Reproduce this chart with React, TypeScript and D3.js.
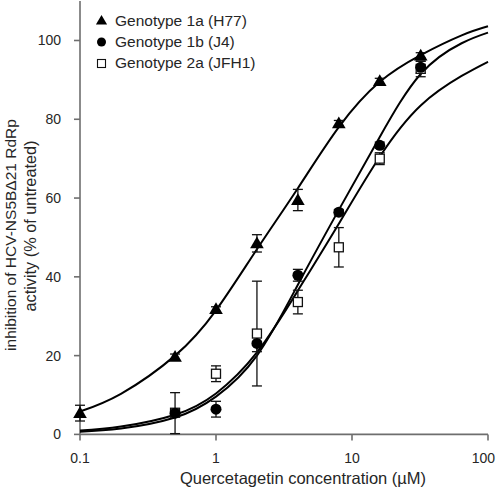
import React from "react";
import * as d3 from "d3";

// Data points (concentration µM, % inhibition, SD)
const conc1a = [0.1, 0.5, 1, 2, 4, 8, 16, 32];
const val1a = [5.4, 19.7, 31.8, 48.5, 59.5, 79, 89.7, 96.2];
const err1a = [2.0, 0.7, 0.6, 2.2, 2.7, 0.7, 0.7, 0.7];

const conc1b = [0.5, 1, 2, 4, 8, 16, 32];
const val1b = [5.4, 6.4, 23.1, 40.4, 56.4, 73.4, 93.2];
const err1b = [5.2, 2.0, 2.1, 1.5, 0.7, 0.8, 1.5];

const conc2a = [0.5, 1, 2, 4, 8, 16, 32];
const val2a = [5.5, 15.4, 25.6, 33.6, 47.5, 70.0, 92.8];
const err2a = [1.0, 2.0, 13.3, 3.0, 5.0, 1.5, 2.0];

// Fitted dose-response curves
const curveConc = [0.1, 0.2, 0.5, 1, 2, 4, 8, 16, 32, 64, 100];
const curve1a = [5.8, 10.3, 20, 31.5, 47, 62.5, 78, 89.5, 96.3, 101.3, 103.6];
const curve1b = [0.7, 1.5, 4.3, 9.6, 20, 38, 57, 75.5, 91.5, 99.3, 102];
const curve2a = [1.0, 2.0, 5.0, 10.4, 20.8, 36.5, 53.5, 70.5, 83.5, 91, 94.6];

const xTicks = [0.1, 1, 10, 100];
const xTickLabels = ["0.1", "1", "10", "100"];
const yTicks = [0, 20, 40, 60, 80, 100];

const legendLabels = ["Genotype 1a (H77)", "Genotype 1b (J4)", "Genotype 2a (JFH1)"];

const FONT = "'Liberation Sans', Arial, Helvetica, sans-serif";

export default function App() {
  const W = 496, H = 492;
  const x = d3.scaleLog().domain([0.1, 100]).range([80, 488]);
  const y = d3.scaleLinear().domain([0, 110]).range([434.4, 1.1]);
  const axisColor = "#6e6e6e";
  const textColor = "#262626";

  const line = d3
    .line<number>()
    .x((_, i) => x(curveConc[i]))
    .y((v) => y(v))
    .curve(d3.curveNatural);

  const curves = [curve1a, curve1b, curve2a];

  const errBars = (cs: number[], vs: number[], es: number[], key: string) =>
    cs.map((c, i) => {
      const cx = x(c);
      const top = y(vs[i] + es[i]);
      const bot = y(Math.max(0, vs[i] - es[i]));
      return (
        <g key={key + i} stroke="#111" strokeWidth={1.3}>
          <line x1={cx} x2={cx} y1={top} y2={bot} />
          <line x1={cx - 5} x2={cx + 5} y1={top} y2={top} />
          <line x1={cx - 5} x2={cx + 5} y1={bot} y2={bot} />
        </g>
      );
    });

  const tri = (cx: number, cy: number, s: number) =>
    `M${cx},${cy - s * 0.62} L${cx + s * 0.62},${cy + s * 0.45} L${cx - s * 0.62},${cy + s * 0.45} Z`;

  return (
    <svg
      width={W}
      height={H}
      style={{ position: "absolute", left: 0, top: 0, background: "#fff" }}
      fontFamily={FONT}
    >
      <rect x={0} y={0} width={W} height={H} fill="#fff" />
      {/* axes */}
      <g stroke={axisColor} strokeWidth={1.6} fill="none">
        <line x1={x(0.1)} x2={x(100)} y1={y(0)} y2={y(0)} />
        <line x1={x(0.1)} x2={x(0.1)} y1={y(0)} y2={y(110)} />
        {xTicks.map((t) => (
          <line key={"xt" + t} x1={x(t)} x2={x(t)} y1={y(0)} y2={y(0) + 6} />
        ))}
        {yTicks.map((t) => (
          <line key={"yt" + t} x1={x(0.1) - 6} x2={x(0.1)} y1={y(t)} y2={y(t)} />
        ))}
      </g>
      {xTicks.map((t, i) => {
        const last = i === xTicks.length - 1;
        return (
          <text
            key={"xl" + t}
            x={last ? 495 : x(t)}
            y={463}
            textAnchor={last ? "end" : "middle"}
            fontSize={14}
            fill={textColor}
          >
            {xTickLabels[i]}
          </text>
        );
      })}
      {yTicks.map((t) => (
        <text
          key={"yl" + t}
          x={61}
          y={y(t)}
          dy="0.35em"
          textAnchor="end"
          fontSize={14}
          fill={textColor}
        >
          {t}
        </text>
      ))}
      <text x={303} y={484} textAnchor="middle" fontSize={16.5} fill={textColor}>
        Quercetagetin concentration (µM)
      </text>
      <text
        transform="translate(16,235) rotate(-90)"
        textAnchor="middle"
        fontSize={15.5}
        fill={textColor}
      >
        inhibition of HCV-NS5BΔ21 RdRp
      </text>
      <text
        transform="translate(36,226) rotate(-90)"
        textAnchor="middle"
        fontSize={16.3}
        fill={textColor}
      >
        activity (% of untreated)
      </text>

      {/* curves */}
      {curves.map((c, i) => (
        <path key={"c" + i} d={line(c) || ""} fill="none" stroke="#000" strokeWidth={2} />
      ))}

      {/* error bars */}
      {errBars(conc2a, val2a, err2a, "e2a")}
      {errBars(conc1b, val1b, err1b, "e1b")}
      {errBars(conc1a, val1a, err1a, "e1a")}

      {/* markers */}
      {conc2a.map((c, i) => (
        <rect
          key={"s" + i}
          x={x(c) - 4.5}
          y={y(val2a[i]) - 4.5}
          width={9}
          height={9}
          fill="#fff"
          stroke="#111"
          strokeWidth={1.3}
        />
      ))}
      {conc1b.map((c, i) => (
        <circle key={"o" + i} cx={x(c)} cy={y(val1b[i])} r={5.5} fill="#000" />
      ))}
      {conc1a.map((c, i) => (
        <path key={"t" + i} d={tri(x(c), y(val1a[i]), 11)} fill="#000" />
      ))}

      {/* legend */}
      <path d={tri(101.5, 20.5, 9)} fill="#000" />
      <circle cx={101.5} cy={42} r={4.5} fill="#000" />
      <rect x={97.5} y={59.5} width={8} height={8} fill="#fff" stroke="#111" strokeWidth={1.1} />
      {legendLabels.map((l, i) => (
        <text key={"lg" + i} x={115} y={25.7 + i * 21.3} fontSize={15.5} fill={textColor}>
          {l}
        </text>
      ))}
    </svg>
  );
}
